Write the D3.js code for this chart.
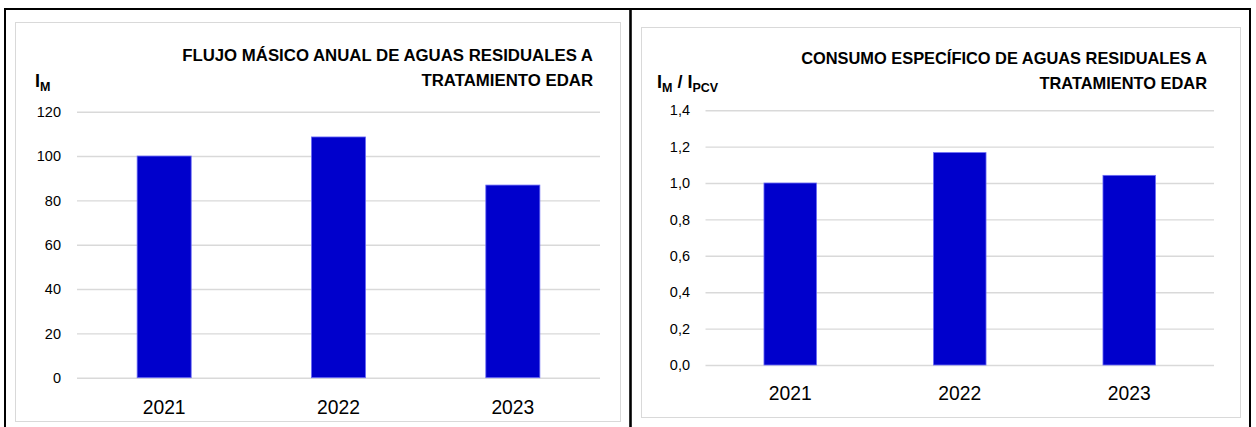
<!DOCTYPE html>
<html>
<head>
<meta charset="utf-8">
<script src="https://cdn.jsdelivr.net/npm/d3@7"></script>
<style>
  html, body { margin: 0; padding: 0; background: #fff; }
  svg { display: block; }
  text { font-family: "Liberation Sans", Arial, sans-serif; fill: #000; }
</style>
</head>
<body>
<div id="charts"></div>
<script>
// Chart data

var years = ["2021", "2022", "2023"];

var flujoValues = [100, 108.6, 86.9];
var flujoTicks = [0, 20, 40, 60, 80, 100, 120];
var flujoTitle = ["FLUJO MÁSICO ANUAL DE AGUAS RESIDUALES A", "TRATAMIENTO EDAR"];

var consumoValues = [1.0, 1.167, 1.042];
var consumoTicks = [0, 0.2, 0.4, 0.6, 0.8, 1.0, 1.2, 1.4];
var consumoTitle = ["CONSUMO ESPECÍFICO DE AGUAS RESIDUALES A", "TRATAMIENTO EDAR"];

// Spanish number format: comma as decimal mark
var esLocale = d3.formatLocale({decimal: ",", thousands: ".", grouping: [3], currency: ["", " €"]});

var width = 1256,
    height = 427,
    barColor = "#0000cc",
    gridColor = "#d9d9d9";

var svg = d3.select("#charts").append("svg")
    .attr("width", width)
    .attr("height", height);

// Table frame round the two charts
var frame = svg.append("g").attr("class", "frame");
frame.append("line").attr("x1", 4).attr("x2", 1251).attr("y1", 9).attr("y2", 9)
    .attr("stroke", "#000").attr("stroke-width", 2);
[5, 630.5, 1250].forEach(function(x) {
  frame.append("line").attr("x1", x).attr("x2", x).attr("y1", 8).attr("y2", height)
      .attr("stroke", "#000").attr("stroke-width", x === 630.5 ? 2.6 : 2);
});

// Draws one bar chart into the svg
function drawChart(opts) {
  var g = svg.append("g");

  g.append("rect")
      .attr("x", opts.box[0] + 0.5)
      .attr("y", opts.box[1] + 0.5)
      .attr("width", opts.box[2] - opts.box[0])
      .attr("height", opts.box[3] - opts.box[1])
      .attr("fill", "#fff")
      .attr("stroke", gridColor)
      .attr("stroke-width", 1);

  var x = d3.scaleBand()
      .domain(years)
      .range([opts.left, opts.right])
      .paddingInner(0.69)
      .paddingOuter(0.345);

  var y = d3.scaleLinear()
      .domain([0, d3.max(opts.ticks)])
      .range([opts.bottom, opts.top]);

  // Gridlines + tick labels from the axis
  var yAxis = d3.axisLeft(y)
      .tickValues(opts.ticks)
      .tickFormat(opts.format)
      .tickSize(-(opts.right - opts.left))
      .tickPadding(opts.left - opts.labelRight);

  var axisG = g.append("g")
      .attr("transform", "translate(" + opts.left + ",0)")
      .call(yAxis);
  axisG.select(".domain").remove();
  axisG.selectAll(".tick line")
      .attr("stroke", gridColor)
      .attr("stroke-width", 1.4);
  axisG.selectAll(".tick text")
      .style("font-family", "'Liberation Sans', Arial, sans-serif")
      .style("font-size", "14.5px")
      .attr("fill", "#000");

  // Bars
  g.selectAll(".bar")
      .data(opts.values)
      .enter().append("rect")
      .attr("class", "bar")
      .attr("x", function(d, i) { return x(years[i]); })
      .attr("y", function(d) { return y(d); })
      .attr("width", x.bandwidth())
      .attr("height", function(d) { return y(0) - y(d); })
      .attr("fill", barColor)
      .attr("stroke", "#6b6bf5")
      .attr("stroke-width", 0.8);

  // Category labels
  g.selectAll(".year")
      .data(years)
      .enter().append("text")
      .attr("class", "year")
      .attr("x", function(d) { return x(d) + x.bandwidth() / 2; })
      .attr("y", opts.yearBase)
      .attr("text-anchor", "middle")
      .style("font-size", "19.3px")
      .text(function(d) { return d; });

  // Title, right aligned in two lines
  g.selectAll(".title")
      .data(opts.title)
      .enter().append("text")
      .attr("class", "title")
      .attr("x", opts.titleRight)
      .attr("y", function(d, i) { return opts.titleBase + i * 25; })
      .attr("text-anchor", "end")
      .style("font-size", opts.titleSize + "px")
      .style("font-weight", "bold")
      .text(function(d) { return d; });

  // Y axis label with subscripts
  var lab = g.append("text")
      .attr("x", opts.labelX)
      .attr("y", opts.labelBase)
      .style("font-size", "18px")
      .style("font-weight", "bold");
  opts.label.forEach(function(part) {
    lab.append("tspan")
        .attr("dy", part.sub ? 4 : (part.back ? -4 : 0))
        .style("font-size", part.sub ? "12.5px" : "18px")
        .style("font-weight", "bold")
        .text(part.t);
  });
}

drawChart({
  box: [15, 22, 620, 421],
  left: 77, right: 600, top: 111.7, bottom: 377.7,
  labelRight: 61,
  ticks: flujoTicks,
  values: flujoValues,
  format: d3.format("d"),
  yearBase: 414,
  title: flujoTitle,
  titleRight: 593, titleBase: 61, titleSize: 16.8,
  labelX: 35, labelBase: 87,
  label: [{t: "I"}, {t: "M", sub: true}]
});

drawChart({
  box: [641, 27, 1240, 417],
  left: 705.5, right: 1214, top: 110.2, bottom: 365,
  labelRight: 690,
  ticks: consumoTicks,
  values: consumoValues,
  format: esLocale.format(".1f"),
  yearBase: 400,
  title: consumoTitle,
  titleRight: 1207, titleBase: 64, titleSize: 16.4,
  labelX: 657, labelBase: 88,
  label: [{t: "I"}, {t: "M", sub: true}, {t: " / ", back: true}, {t: "I"}, {t: "PCV", sub: true}]
});
</script>
</body>
</html>
